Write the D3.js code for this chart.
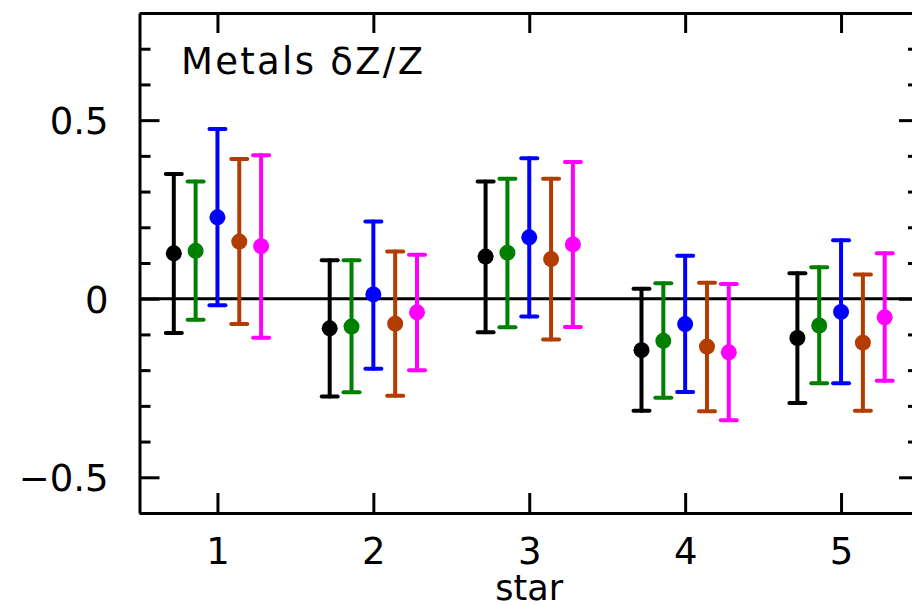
<!DOCTYPE html>
<html>
<head>
<meta charset="utf-8">
<script src="https://cdn.jsdelivr.net/npm/d3@7"></script>
<style>
  html, body { margin: 0; padding: 0; background: #fff; }
  svg text { font-family: "DejaVu Sans", sans-serif; fill: #000; }
</style>
</head>
<body>
<div id="chart"></div>
<script>
// stars along the x axis
const stars = [1, 2, 3, 4, 5];
const xTickLabels = ["1", "2", "3", "4", "5"];
const yMajorTicks = [-0.5, 0, 0.5];
const yMinorTicks = [-0.6, -0.4, -0.3, -0.2, -0.1, 0.1, 0.2, 0.3, 0.4, 0.6, 0.7, 0.8];

// five series, one value per star (centre, upper end, lower end of the bar)
const blackMid   = [0.127, -0.083, 0.118, -0.144, -0.110];
const blackHi    = [0.349,  0.108, 0.328,  0.028,  0.071];
const blackLo    = [-0.096, -0.274, -0.094, -0.314, -0.292];

const greenMid   = [0.134, -0.078, 0.129, -0.118, -0.075];
const greenHi    = [0.328,  0.108, 0.336,  0.043,  0.088];
const greenLo    = [-0.059, -0.262, -0.080, -0.277, -0.237];

const blueMid    = [0.228,  0.012, 0.172, -0.071, -0.037];
const blueHi     = [0.475,  0.216, 0.393,  0.120,  0.164];
const blueLo     = [-0.018, -0.196, -0.050, -0.261, -0.237];

const brownMid   = [0.160, -0.070, 0.111, -0.134, -0.123];
const brownHi    = [0.391,  0.132, 0.336,  0.045,  0.068];
const brownLo    = [-0.071, -0.272, -0.114, -0.315, -0.314];

const magentaMid = [0.147, -0.038, 0.152, -0.150, -0.052];
const magentaHi  = [0.402,  0.123, 0.383,  0.041,  0.127];
const magentaLo  = [-0.109, -0.200, -0.079, -0.340, -0.230];

const seriesColors = ["#000000", "#008000", "#0000ff", "#b33c00", "#ff00ff"];
const seriesMid = [blackMid, greenMid, blueMid, brownMid, magentaMid];
const seriesHi  = [blackHi, greenHi, blueHi, brownHi, magentaHi];
const seriesLo  = [blackLo, greenLo, blueLo, brownLo, magentaLo];
const seriesOffset = [-0.28, -0.14, 0, 0.14, 0.28];

const width = 912, height = 605;
const margin = { top: 13, right: -7, bottom: 92, left: 139.5 };
const innerW = width - margin.left - margin.right;
const innerH = height - margin.top - margin.bottom;

const x = d3.scaleLinear().domain([0.5, 5.5]).range([0, innerW]);
const y = d3.scaleLinear().domain([-0.6, 0.8]).range([innerH, 0]);

const svg = d3.select("#chart").append("svg")
    .attr("width", width)
    .attr("height", height);

const g = svg.append("g")
    .attr("transform", `translate(${margin.left},${margin.top})`);

// frame + inward ticks
const styleAxis = (sel) => {
    sel.selectAll("path.domain").attr("stroke", "#000").attr("stroke-width", 3);
    sel.selectAll(".tick line").attr("stroke", "#000").attr("stroke-width", 3);
    sel.selectAll(".tick text").style("font-size", "37px");
};

g.append("g")
    .call(d3.axisLeft(y).tickValues(yMajorTicks).tickSizeInner(-20).tickSizeOuter(0)
        .tickPadding(31).tickFormat(d => d === 0 ? "0" : d3.format(".1f")(d).replace("-", "\u2212")))
    .call(styleAxis)
    .call(s => s.selectAll(".tick text").attr("dy", "0.36em"));
g.append("g")
    .call(d3.axisLeft(y).tickValues(yMinorTicks).tickSize(-11).tickFormat(""))
    .call(styleAxis)
    .call(s => s.select("path.domain").remove());

g.append("g")
    .attr("transform", `translate(${innerW},0)`)
    .call(d3.axisRight(y).tickValues(yMajorTicks).tickSizeInner(-20).tickSizeOuter(0).tickFormat(""))
    .call(styleAxis);
g.append("g")
    .attr("transform", `translate(${innerW},0)`)
    .call(d3.axisRight(y).tickValues(yMinorTicks).tickSize(-11).tickFormat(""))
    .call(styleAxis)
    .call(s => s.select("path.domain").remove());

g.append("g")
    .attr("transform", `translate(0,${innerH})`)
    .call(d3.axisBottom(x).tickValues(stars).tickSizeInner(-20).tickSizeOuter(0)
        .tickPadding(0).tickFormat((d, i) => xTickLabels[i]))
    .call(styleAxis)
    .call(s => s.selectAll(".tick text").attr("y", 51).attr("dy", 0));

g.append("g")
    .call(d3.axisTop(x).tickValues(stars).tickSizeInner(-20).tickSizeOuter(0).tickFormat(""))
    .call(styleAxis);

// zero line
g.append("line")
    .attr("x1", x(0.5)).attr("x2", x(5.5))
    .attr("y1", y(0)).attr("y2", y(0))
    .attr("stroke", "#000").attr("stroke-width", 3);

// error bars
const capHalf = 8;
seriesColors.forEach((color, s) => {
    const pts = stars.map((star, i) => ({
        xv: star + seriesOffset[s],
        mid: seriesMid[s][i], hi: seriesHi[s][i], lo: seriesLo[s][i]
    }));
    const sg = g.append("g").attr("class", "series")
        .attr("stroke", color).attr("fill", color)
        .attr("stroke-width", 4).attr("stroke-linecap", "round");

    sg.selectAll("line.bar").data(pts).join("line").attr("class", "bar")
        .attr("x1", d => x(d.xv)).attr("x2", d => x(d.xv))
        .attr("y1", d => y(d.hi)).attr("y2", d => y(d.lo));
    sg.selectAll("line.cap-hi").data(pts).join("line").attr("class", "cap-hi")
        .attr("x1", d => x(d.xv) - capHalf).attr("x2", d => x(d.xv) + capHalf)
        .attr("y1", d => y(d.hi)).attr("y2", d => y(d.hi));
    sg.selectAll("line.cap-lo").data(pts).join("line").attr("class", "cap-lo")
        .attr("x1", d => x(d.xv) - capHalf).attr("x2", d => x(d.xv) + capHalf)
        .attr("y1", d => y(d.lo)).attr("y2", d => y(d.lo));
    sg.selectAll("circle").data(pts).join("circle")
        .attr("stroke", "none")
        .attr("cx", d => x(d.xv)).attr("cy", d => y(d.mid)).attr("r", 8);
});

// labels
svg.append("text")
    .attr("x", margin.left + x(3)).attr("y", 600)
    .attr("text-anchor", "middle")
    .style("font-size", "35px")
    .text("star");

svg.append("text")
    .attr("x", 181).attr("y", 74)
    .style("font-size", "37px")
    .style("letter-spacing", "2.3px")
    .text("Metals \u03B4Z/Z");
</script>
</body>
</html>
